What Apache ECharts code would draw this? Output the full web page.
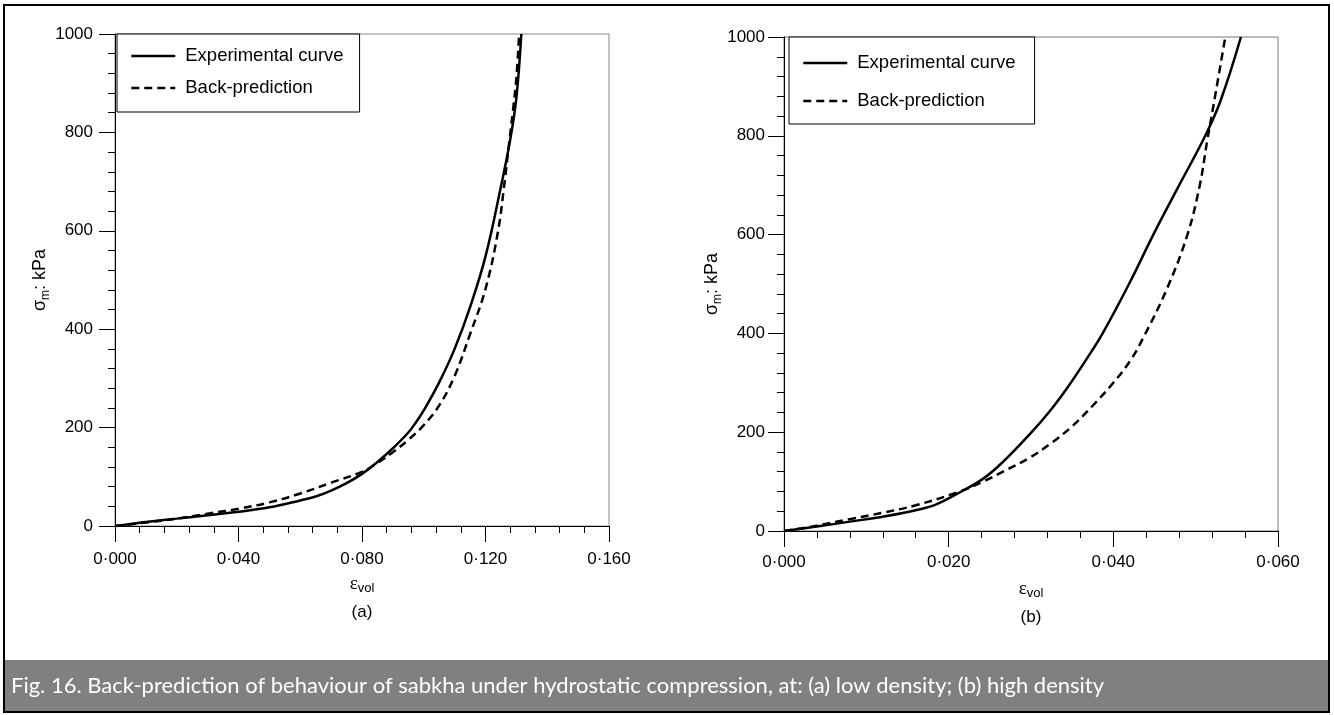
<!DOCTYPE html>
<html><head><meta charset="utf-8">
<script src="https://cdn.jsdelivr.net/npm/echarts@6/dist/echarts.min.js"></script>
<style>html,body{margin:0;padding:0;background:#fff}#c{width:1334px;height:715px}</style>
</head><body><div id="c"></div>
<script>
// ---------- data ----------
const seriesNames = ['Experimental curve', 'Back-prediction'];
const panelLabels = ['(a)', '(b)'];
const caption = 'Fig. 16. Back-prediction of behaviour of sabkha under hydrostatic compression, at: (a) low density; (b) high density';

// panel (a): low density
const aExpX = [0, 0.005, 0.010, 0.020, 0.030, 0.040, 0.050, 0.060, 0.065, 0.070, 0.075, 0.080, 0.085, 0.090, 0.095, 0.0976, 0.100, 0.105, 0.110, 0.115, 0.120, 0.125, 0.128, 0.130, 0.1316];
const aExpY = [0, 4, 8, 15, 22, 29, 38, 52, 60, 72, 87, 106, 130, 158, 190, 212, 235, 292, 360, 445, 548, 690, 785, 870, 1000];
const aPredX = [0, 0.010, 0.020, 0.030, 0.040, 0.050, 0.060, 0.070, 0.080, 0.085, 0.090, 0.095, 0.100, 0.105, 0.110, 0.115, 0.120, 0.124, 0.1262, 0.1275, 0.1290, 0.1300, 0.1309];
const aPredY = [0, 7, 15, 25, 35, 48, 66, 88, 110, 128, 150, 175, 205, 245, 305, 390, 482, 597, 700, 770, 850, 910, 1000];

// panel (b): high density
const bExpX = [0, 0.004, 0.008, 0.012, 0.016, 0.0185, 0.021, 0.0242, 0.0266, 0.0298, 0.0323, 0.0345, 0.0369, 0.0387, 0.042, 0.0448, 0.048, 0.0511, 0.053, 0.0555];
const bExpY = [0, 9, 19, 29, 42, 54, 75, 106, 140, 195, 243, 292, 352, 400, 503, 598, 700, 798, 870, 1000];
const bPredX = [0, 0.003, 0.008, 0.012, 0.016, 0.021, 0.0242, 0.0266, 0.0298, 0.0323, 0.035, 0.0374, 0.040, 0.0421, 0.0436, 0.0465, 0.049, 0.0505, 0.0514, 0.0522, 0.0536];
const bPredY = [0, 8, 24, 37, 52, 78, 100, 120, 148, 176, 212, 252, 300, 346, 390, 490, 600, 700, 790, 865, 1000];

// axis ranges / ticks
const yMin = 0, yMax = 1000, yStep = 200;
const xMaxA = 0.16, xStepA = 0.04;
const xMaxB = 0.06, xStepB = 0.02;

// ---------- chart ----------
const zip = (xs, ys) => xs.map((x, i) => [x, ys[i]]);
const fmtX = v => v.toFixed(3).replace('.', '\u00B7');
const fmtY = v => String(v);
const FONT = '"Liberation Sans", Arial, sans-serif';

function xAxis(gi, max, step, label, margin) {
  return {
    type: 'value', gridIndex: gi, min: 0, max: max, interval: step,
    axisLine: { show: true, onZero: false, lineStyle: { color: '#000', width: 1 } },
    axisTick: { show: true, length: 16, lineStyle: { color: '#000', width: 1 } },
    minorTick: { show: true, splitNumber: 5, length: 7, lineStyle: { color: '#000', width: 1 } },
    splitLine: { show: false },
    axisLabel: { formatter: fmtX, color: '#000', fontSize: 17, fontFamily: FONT, margin: margin },
    name: '{e|\u03B5}{s|vol}\n{p|' + label + '}',
    nameLocation: 'middle', nameGap: 47,
    nameTextStyle: {
      color: '#000',
      rich: {
        e: { fontSize: 19, fontFamily: '"Liberation Serif", serif', lineHeight: 22, color: '#000' },
        s: { fontSize: 13, fontFamily: FONT, lineHeight: 12, verticalAlign: 'bottom', color: '#000' },
        p: { fontSize: 17, fontFamily: FONT, lineHeight: 34, color: '#000' }
      }
    }
  };
}
function yAxis(gi, margin, gap) {
  return {
    type: 'value', gridIndex: gi, min: yMin, max: yMax, interval: yStep,
    axisLine: { show: true, onZero: false, lineStyle: { color: '#000', width: 1 } },
    axisTick: { show: true, length: 16, lineStyle: { color: '#000', width: 1 } },
    minorTick: { show: true, splitNumber: 5, length: 7, lineStyle: { color: '#000', width: 1 } },
    splitLine: { show: false },
    axisLabel: { formatter: fmtY, color: '#000', fontSize: 17, fontFamily: FONT, margin: margin },
    name: '{t|\u03C3}{s|m}{t|: kPa}',
    nameLocation: 'middle', nameRotate: 90, nameGap: gap,
    nameTextStyle: {
      color: '#000',
      rich: {
        t: { fontSize: 18, fontFamily: FONT, lineHeight: 22, color: '#000' },
        s: { fontSize: 12, fontFamily: FONT, lineHeight: 12, verticalAlign: 'bottom', color: '#000' }
      }
    }
  };
}
function line(name, gi, data, dashed) {
  return {
    type: 'line', name: name, xAxisIndex: gi, yAxisIndex: gi,
    data: data, symbol: 'none', smooth: 0.4,
    lineStyle: { color: '#000', width: 2.5, type: dashed ? [8, 5] : 'solid' },
    itemStyle: { color: '#000' },
    animation: false
  };
}
function legend(left, top, pad, gap) {
  return {
    orient: 'vertical', left: left, top: top, data: seriesNames,
    itemWidth: 44, itemHeight: 3, itemGap: gap, padding: pad,
    borderColor: '#000', borderWidth: 1, backgroundColor: '#fff',
    selectedMode: false,
    itemStyle: { color: 'rgba(0,0,0,0)', borderColor: 'rgba(0,0,0,0)', borderWidth: 0 },
    lineStyle: { color: '#000', width: 2.5 },
    textStyle: { color: '#000', fontSize: 18.5, fontFamily: FONT, lineHeight: 22, padding: [0, 0, 0, 5] }
  };
}

const chart = echarts.init(document.getElementById('c'), null, { renderer: 'canvas' });
chart.setOption({
  backgroundColor: '#fff',
  animation: false,
  grid: [
    { left: 115, top: 34, width: 494, height: 492, show: true, borderColor: '#888', borderWidth: 1, backgroundColor: 'transparent' },
    { left: 784, top: 37, width: 494, height: 494, show: true, borderColor: '#777', borderWidth: 1, backgroundColor: 'transparent' }
  ],
  xAxis: [xAxis(0, xMaxA, xStepA, panelLabels[0], 25), xAxis(1, xMaxB, xStepB, panelLabels[1], 23)],
  yAxis: [yAxis(0, 22, 57), yAxis(1, 19, 57)],
  legend: [
    legend(117, 34, [11, 16, 13, 13], 10),
    legend(789, 37, [15, 19, 12, 13], 16)
  ],
  series: [
    line(seriesNames[0], 0, zip(aExpX, aExpY), false),
    line(seriesNames[1], 0, zip(aPredX, aPredY), true),
    line(seriesNames[0], 1, zip(bExpX, bExpY), false),
    line(seriesNames[1], 1, zip(bPredX, bPredY), true)
  ],
  graphic: [
    { type: 'rect', shape: { x: 4, y: 660, width: 1325, height: 52 }, style: { fill: '#808080' }, z: 10 },
    { type: 'text', x: 11, y: 686, z: 11, style: { text: caption, fill: '#fff', font: '22px Lato', verticalAlign: 'middle' } },
    { type: 'rect', shape: { x: 4, y: 5, width: 1325, height: 707 }, style: { fill: null, stroke: '#000', lineWidth: 2 }, z: 12 }
  ]
});
</script></body></html>
